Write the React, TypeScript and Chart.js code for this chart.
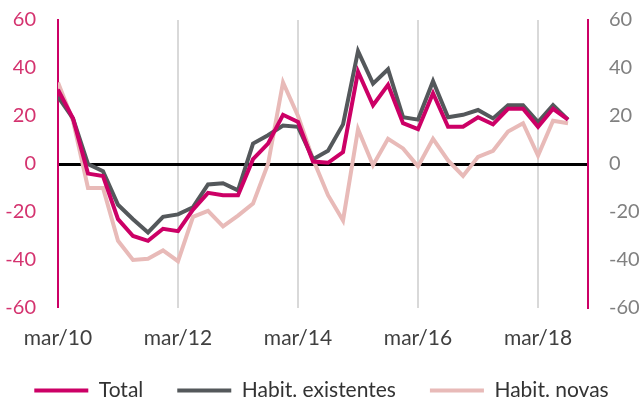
import { useEffect, useRef } from "react";
import { Chart, registerables } from "chart.js";

Chart.register(...registerables);

const quarters = [
  "mar/10", "jun/10", "set/10", "dez/10",
  "mar/11", "jun/11", "set/11", "dez/11",
  "mar/12", "jun/12", "set/12", "dez/12",
  "mar/13", "jun/13", "set/13", "dez/13",
  "mar/14", "jun/14", "set/14", "dez/14",
  "mar/15", "jun/15", "set/15", "dez/15",
  "mar/16", "jun/16", "set/16", "dez/16",
  "mar/17", "jun/17", "set/17", "dez/17",
  "mar/18", "jun/18", "set/18",
];

const tickLabels = ["mar/10", "mar/12", "mar/14", "mar/16", "mar/18"];

const total = [31, 19, -4, -5, -23, -30, -32, -27, -28, -19, -12, -13, -13, 2, 8.5, 20.5, 17.5, 1, 0.5, 5, 38.5, 24.5, 33, 17, 14.5, 29.5, 15.5, 15.5, 19.5, 16.5, 23, 23, 15.5, 23, 18.5];
const existentes = [28, 19, 0, -3, -17, -23, -28.5, -22, -21, -18, -8.5, -8, -11, 8.5, 12, 16, 15.5, 2, 5.5, 16.5, 47, 33.5, 39.5, 19.5, 18.5, 34.5, 19.5, 20.5, 22.5, 19, 24.5, 24.5, 17.5, 24.5, 18.5];
const novas = [34, 18, -10, -10, -32, -40, -39.5, -36, -40.5, -22, -19.5, -26, -21.5, -16.5, 0, 34, 20, 2, -13, -23.5, 14.5, -0.5, 10.5, 6.5, -1, 10.5, 1.5, -5, 3, 5.5, 13.5, 17, 3.5, 18, 17];

const yMin = -60;
const yMax = 60;
const yStep = 20;

const FONT = "Lato, 'DejaVu Sans', sans-serif";
const PINK = "#cc0066";
const CLEAR = "rgba(0,0,0,0)";

function toPoints(arr: number[]) {
  return arr.map((v, i) => ({ x: i, y: v }));
}

export default function App() {
  const ref = useRef<HTMLCanvasElement | null>(null);

  useEffect(() => {
    document.body.style.margin = "0";
    const canvas = ref.current;
    if (!canvas) return;
    const chart = new Chart(canvas, {
      type: "line",
      data: {
        datasets: [
          {
            label: "Total",
            data: toPoints(total),
            borderColor: PINK,
            backgroundColor: PINK,
            borderWidth: 4,
            pointRadius: 0,
            tension: 0,
          },
          {
            label: "Habit. existentes",
            data: toPoints(existentes),
            borderColor: "#54585b",
            backgroundColor: "#54585b",
            borderWidth: 4,
            pointRadius: 0,
            tension: 0,
          },
          {
            label: "Habit. novas",
            data: toPoints(novas),
            borderColor: "#e8bab8",
            backgroundColor: "#e8bab8",
            borderWidth: 4,
            pointRadius: 0,
            tension: 0,
          },
        ],
      },
      options: {
        animation: false,
        responsive: false,
        layout: { padding: { top: 20, left: 0, right: 0, bottom: 0 } },
        plugins: {
          tooltip: { enabled: false },
          legend: {
            position: "bottom",
            maxHeight: 57,
            labels: {
              usePointStyle: true,
              pointStyle: "line",
              pointStyleWidth: 54,
              padding: 34,
              color: "#333333",
              font: { family: FONT, size: 21 },
            },
          },
        },
        scales: {
          x: {
            type: "linear",
            min: 0,
            max: 35.33,
            afterBuildTicks: (scale: any) => {
              scale.ticks = tickLabels.map((l) => ({ value: quarters.indexOf(l) }));
            },
            afterFit: (scale: any) => {
              scale.height = 38;
            },
            ticks: {
              autoSkip: false,
              maxRotation: 0,
              padding: 18,
              color: "#404040",
              font: { family: FONT, size: 21 },
              callback: (v: any) => quarters[Number(v)] ?? "",
            },
            grid: {
              drawTicks: false,
              color: (ctx: any) => (ctx.tick && ctx.tick.value === 0 ? CLEAR : "#d9d9d9"),
              lineWidth: 2,
            },
            border: { display: false },
          },
          y: {
            type: "linear",
            position: "left",
            min: yMin,
            max: yMax,
            afterFit: (scale: any) => {
              scale.width = 58;
            },
            ticks: {
              stepSize: yStep,
              padding: 8,
              color: "#d4336f",
              font: { family: FONT, size: 20 },
            },
            grid: {
              drawTicks: true,
              tickLength: 14,
              tickColor: CLEAR,
              color: (ctx: any) => (ctx.tick && ctx.tick.value === 0 ? "#000000" : CLEAR),
              lineWidth: (ctx: any) => (ctx.tick && ctx.tick.value === 0 ? 3 : 0),
            },
            border: { display: true, color: PINK, width: 2 },
          },
          y2: {
            type: "linear",
            position: "right",
            min: yMin,
            max: yMax,
            afterFit: (scale: any) => {
              scale.width = 55;
            },
            ticks: {
              stepSize: yStep,
              padding: 8,
              color: "#808080",
              font: { family: FONT, size: 20 },
            },
            grid: {
              display: true,
              drawOnChartArea: false,
              drawTicks: true,
              tickLength: 13,
              tickColor: CLEAR,
              color: CLEAR,
            },
            border: { display: true, color: PINK, width: 2 },
          },
        },
      },
    } as any);
    return () => chart.destroy();
  }, []);

  return (
    <div style={{ width: 643, height: 403 }}>
      <canvas ref={ref} width={643} height={403} />
    </div>
  );
}
